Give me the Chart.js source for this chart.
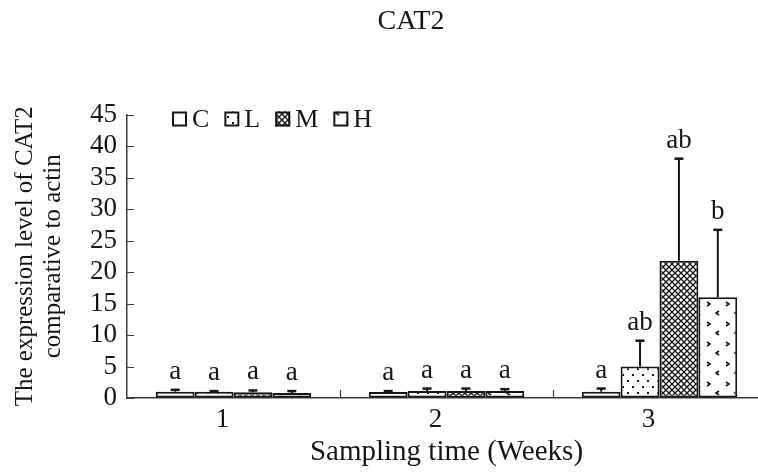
<!DOCTYPE html>
<html>
<head>
<meta charset="utf-8">
<script src="https://cdn.jsdelivr.net/npm/chart.js@4.4.0/dist/chart.umd.min.js"></script>
<style>
html, body { margin: 0; padding: 0; overflow: hidden; background: #fff; }
#wrap { width: 822px; height: 473px; }
</style>
</head>
<body>
<div id="wrap"><canvas id="chart" width="822" height="473"></canvas></div>
<script>
// sampling weeks and treatment groups
var weeks = ['1', '2', '3'];
var groupNames = ['C', 'L', 'M', 'H'];

// expression level (means) per group
var valuesC = [1.0, 0.95, 1.0];
var valuesL = [1.0, 1.1, 5.0];
var valuesM = [0.9, 1.1, 21.8];
var valuesH = [0.8, 1.1, 16.0];

// upper error (SD) per group
var errorsC = [0.3, 0.15, 0.5];
var errorsL = [0.1, 0.4, 4.1];
var errorsM = [0.3, 0.4, 16.2];
var errorsH = [0.3, 0.3, 10.7];

// significance letters
var lettersC = ['a', 'a', 'a'];
var lettersL = ['a', 'a', 'ab'];
var lettersM = ['a', 'a', 'ab'];
var lettersH = ['a', 'a', 'b'];

var yMin = 0, yMax = 45, yStep = 5;

var serif = '"Liberation Serif", "DejaVu Serif", serif';
var ink = '#161616';

function makePattern(kind) {
	if (kind === 'plain') return '#ffffff';
	var c = document.createElement('canvas');
	var g = c.getContext('2d');
	if (kind === 'dots') {
		c.width = 10; c.height = 12;
		g.fillStyle = '#fff'; g.fillRect(0, 0, 10, 12);
		g.fillStyle = ink;
		g.fillRect(2, 2, 2, 2);
		g.fillRect(7, 8, 2, 2);
	} else if (kind === 'dense') {
		c.width = 6; c.height = 6;
		g.fillStyle = '#fff'; g.fillRect(0, 0, 6, 6);
		g.strokeStyle = ink; g.lineWidth = 1.3;
		g.beginPath();
		g.moveTo(0, 0); g.lineTo(6, 6);
		g.moveTo(6, 0); g.lineTo(0, 6);
		g.stroke();
	} else if (kind === 'chevron') {
		c.width = 19; c.height = 20;
		g.fillStyle = '#fff'; g.fillRect(0, 0, 19, 20);
		g.strokeStyle = ink; g.lineWidth = 1.6;
		g.beginPath();
		g.moveTo(4, 2); g.lineTo(7, 4); g.lineTo(4, 6);
		g.moveTo(16, 11); g.lineTo(13, 13); g.lineTo(16, 15);
		g.stroke();
	}
	return g.createPattern(c, 'repeat');
}

var fills = [makePattern('plain'), makePattern('dots'), makePattern('dense'), makePattern('chevron')];

function makeSet(i, values, errors, letters) {
	return {
		label: groupNames[i],
		data: values,
		errors: errors,
		letters: letters,
		backgroundColor: fills[i],
		borderColor: ink,
		borderWidth: 2,
		borderSkipped: false,
		categoryPercentage: 0.73,
		barPercentage: 1.0
	};
}

// error bars + letters above them
var errorBarsPlugin = {
	id: 'errorBars',
	afterDatasetsDraw: function(chart) {
		var ctx = chart.ctx;
		var y = chart.scales.y;
		ctx.save();
		chart.data.datasets.forEach(function(ds, di) {
			var meta = chart.getDatasetMeta(di);
			meta.data.forEach(function(bar, i) {
				var base = y.getPixelForValue(ds.data[i]);
				var top = y.getPixelForValue(ds.data[i] + ds.errors[i]);
				ctx.strokeStyle = ink;
				ctx.lineWidth = 2;
				ctx.beginPath();
				ctx.moveTo(bar.x, base);
				ctx.lineTo(bar.x, top);
				ctx.stroke();
				ctx.lineWidth = 2.5;
				ctx.beginPath();
				ctx.moveTo(bar.x - 4.5, top);
				ctx.lineTo(bar.x + 4.5, top);
				ctx.stroke();
				ctx.fillStyle = ink;
				ctx.font = '27px ' + serif;
				ctx.textAlign = 'center';
				ctx.textBaseline = 'alphabetic';
				ctx.fillText(ds.letters[i], bar.x, top - 11);
			});
		});
		ctx.restore();
	}
};

// inward tick marks on both axes
var innerTicksPlugin = {
	id: 'innerTicks',
	afterDraw: function(chart) {
		var ctx = chart.ctx;
		var area = chart.chartArea;
		var x = chart.scales.x, y = chart.scales.y;
		ctx.save();
		ctx.strokeStyle = '#3a3a3a';
		ctx.lineWidth = 1.2;
		ctx.beginPath();
		y.ticks.forEach(function(t) {
			var py = Math.round(y.getPixelForValue(t.value)) + 0.5;
			ctx.moveTo(area.left, py);
			ctx.lineTo(area.left + 7, py);
		});
		for (var i = 0; i < weeks.length - 1; i++) {
			var px = Math.round((x.getPixelForValue(i) + x.getPixelForValue(i + 1)) / 2) + 0.5;
			ctx.moveTo(px, area.bottom);
			ctx.lineTo(px, area.bottom - 8);
		}
		ctx.stroke();
		ctx.restore();
	}
};

// legend drawn inside the plot, top-left
var innerLegendPlugin = {
	id: 'innerLegend',
	afterDraw: function(chart) {
		var ctx = chart.ctx;
		var area = chart.chartArea;
		var px = area.left + 45;
		var cy = 119;
		ctx.save();
		ctx.font = '26px ' + serif;
		ctx.textBaseline = 'middle';
		ctx.textAlign = 'left';
		chart.data.datasets.forEach(function(ds) {
			ctx.fillStyle = ds.backgroundColor;
			ctx.fillRect(px, cy - 7.5, 15, 15);
			ctx.strokeStyle = ink;
			ctx.lineWidth = 2;
			ctx.strokeRect(px + 1, cy - 6.5, 13, 13);
			ctx.fillStyle = ink;
			ctx.fillText(ds.label, px + 20, cy + 1);
			px += 20 + ctx.measureText(ds.label).width + 15;
		});
		ctx.restore();
	}
};

var chart = new Chart(document.getElementById('chart'), {
	type: 'bar',
	data: {
		labels: weeks,
		datasets: [
			makeSet(0, valuesC, errorsC, lettersC),
			makeSet(1, valuesL, errorsL, lettersL),
			makeSet(2, valuesM, errorsM, lettersM),
			makeSet(3, valuesH, errorsH, lettersH)
		]
	},
	options: {
		responsive: false,
		animation: false,
		devicePixelRatio: 1,
		layout: { padding: 0 },
		plugins: {
			legend: { display: false },
			tooltip: { enabled: false },
			title: {
				display: true,
				text: 'CAT2',
				color: ink,
				font: { family: serif, size: 28, weight: 'normal', lineHeight: 1.2 },
				padding: { top: 5, bottom: 76 }
			}
		},
		scales: {
			x: {
				offset: true,
				grid: { display: true, drawOnChartArea: false, drawTicks: false },
				border: { display: true, color: '#3a3a3a', width: 1.5 },
				ticks: {
					color: ink,
					padding: 6,
					labelOffset: -11,
					font: { family: serif, size: 27 }
				},
				title: {
					display: true,
					text: 'Sampling time (Weeks)',
					color: ink,
					font: { family: serif, size: 29, lineHeight: 1.2 },
					padding: { top: 0, bottom: 3 }
				},
				afterFit: function(scale) { scale.height = 75; }
			},
			y: {
				min: yMin,
				max: yMax,
				grid: { display: true, drawOnChartArea: false, drawTicks: false },
				border: { display: true, color: '#3a3a3a', width: 1.5 },
				ticks: {
					stepSize: yStep,
					autoSkip: false,
					color: ink,
					padding: 10,
					font: { family: serif, size: 27 }
				},
				title: {
					display: true,
					text: ['The expression level of CAT2', 'comparative to actin'],
					color: ink,
					font: { family: serif, size: 25, lineHeight: 1.12 },
					padding: { top: 11, bottom: 0 }
				},
				afterFit: function(scale) { scale.width = 127; }
			},
			// empty right-hand strip, keeps the plot ending past the visible edge
			spare: {
				type: 'linear',
				position: 'right',
				display: true,
				grid: { display: false },
				border: { display: false },
				ticks: { display: false },
				afterFit: function(scale) { scale.width = 56; }
			}
		}
	},
	plugins: [errorBarsPlugin, innerTicksPlugin, innerLegendPlugin]
});
</script>
</body>
</html>
